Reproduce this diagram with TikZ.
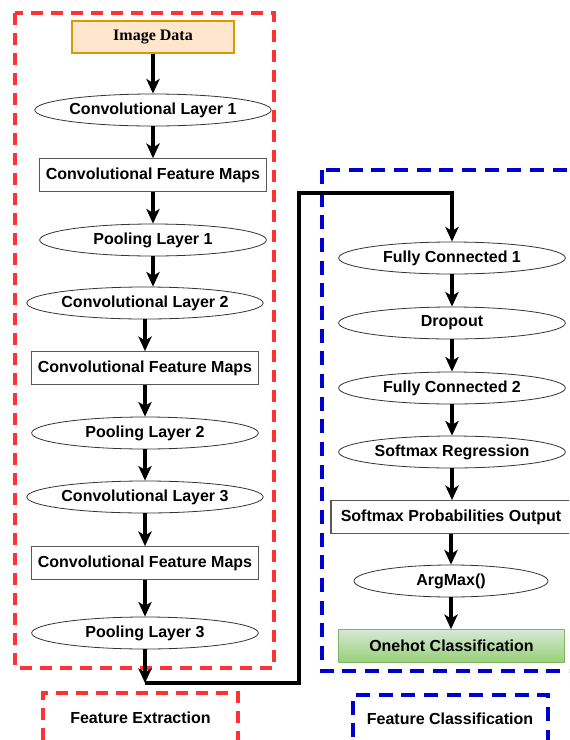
\documentclass[tikz,border=0pt]{standalone}
\usepackage{fontspec}
\setmainfont{Liberation Sans}
\newfontfamily\serifbold{Liberation Serif}
\usetikzlibrary{arrows.meta,shapes.geometric}

\definecolor{boxred}{HTML}{FF3333}
\definecolor{boxblue}{HTML}{0000CC}
\definecolor{imgfill}{HTML}{FFE6CC}
\definecolor{imgdraw}{HTML}{D79B00}
\definecolor{hotdraw}{HTML}{82B366}
\definecolor{hottop}{HTML}{D5E8D4}
\definecolor{hotbottom}{HTML}{97D077}

\begin{document}
\begin{tikzpicture}[x=0.75pt,y=-0.75pt,
        font=\fontsize{12}{14}\selectfont\bfseries,
        layer/.style={ellipse,draw=black!80,line width=0.6pt,inner sep=0pt,minimum width=170pt,minimum height=24pt},
        maps/.style={rectangle,draw=black!65,line width=0.8pt,inner sep=0pt,minimum width=170pt,minimum height=24.5pt},
        flow/.style={-{Stealth[length=11pt,width=10pt,inset=3pt]},line width=2.6pt},
        redbox/.style={draw=boxred,line width=2.3pt,dash pattern=on 9pt off 6pt},
        bluebox/.style={draw=boxblue,line width=2.3pt,dash pattern=on 10.5pt off 6.5pt}]
        \useasboundingbox (0,0) rectangle (569,740);
        \clip (0,0) rectangle (569,740);
        % group frames
        \draw[redbox] (15,13) rectangle (274,668);
        \draw[bluebox] (322,170) rectangle (578,671);
        \draw[redbox] (43,760) -- (43,693) -- (238,693) -- (238,760);
        \draw[bluebox] (353,760) -- (353,695) -- (548,695) -- (548,760);
        \node (extract) at (140.5,718) {Feature Extraction};
        \node (classify) at (450,719) {Feature Classification};
        % feature extraction
        \node [rectangle,draw=imgdraw,fill=imgfill,line width=0.8pt,minimum width=121.5pt,minimum height=24pt,font=\fontsize{12}{14}\selectfont\serifbold\bfseries] (image) at (153,37) {Image Data};
        \node [layer] (conv1) at (153,110) {Convolutional Layer 1};
        \node [maps] (maps1) at (153,175) {Convolutional Feature Maps};
        \node [layer] (pool1) at (153,240) {Pooling Layer 1};
        \node [layer] (conv2) at (145,303) {Convolutional Layer 2};
        \node [maps] (maps2) at (145,368) {Convolutional Feature Maps};
        \node [layer] (pool2) at (145,433) {Pooling Layer 2};
        \node [layer] (conv3) at (145,497) {Convolutional Layer 3};
        \node [maps] (maps3) at (145,563) {Convolutional Feature Maps};
        \node [layer] (pool3) at (145,633) {Pooling Layer 3};
        % feature classification
        \node [layer] (fc1) at (452,258) {Fully Connected 1};
        \node [layer] (drop) at (452,323) {Dropout};
        \node [layer] (fc2) at (452,388) {Fully Connected 2};
        \node [layer] (softreg) at (452,452) {Softmax Regression};
        \node [maps,minimum width=180pt] (softout) at (451,517) {Softmax Probabilities Output};
        \node [layer,minimum width=145.5pt] (argmax) at (451,581) {ArgMax()};
        \node [rectangle,draw=hotdraw,top color=hottop,bottom color=hotbottom,line width=0.8pt,minimum width=170pt,minimum height=24.5pt] (onehot) at (451.5,646) {Onehot Classification};
        \coordinate (turn1) at (145,683);
        \coordinate (turn2) at (299,683);
        \coordinate (turn3) at (299,193);
        \coordinate (turn4) at (452,193);
        % connectors
        \draw[flow] (image.south) -- (image.south |- conv1.north);
        \draw[flow] (conv1.south) -- (conv1.south |- maps1.north);
        \draw[flow] (maps1.south) -- (maps1.south |- pool1.north);
        \draw[flow] (pool1.south) -- (pool1.south |- conv2.north);
        \draw[flow] (conv2.south) -- (conv2.south |- maps2.north);
        \draw[flow] (maps2.south) -- (maps2.south |- pool2.north);
        \draw[flow] (pool2.south) -- (pool2.south |- conv3.north);
        \draw[flow] (conv3.south) -- (conv3.south |- maps3.north);
        \draw[flow] (maps3.south) -- (maps3.south |- pool3.north);
        \draw[flow] (pool3.south) -- (turn1);
        \draw[flow,line join=miter] (turn1) -- (turn2) -- (turn3) -- (turn4) -- (fc1.north);
        \draw[flow] (fc1.south) -- (fc1.south |- drop.north);
        \draw[flow] (drop.south) -- (drop.south |- fc2.north);
        \draw[flow] (fc2.south) -- (fc2.south |- softreg.north);
        \draw[flow] (softreg.south) -- (softreg.south |- softout.north);
        \draw[flow] (softout.south) -- (softout.south |- argmax.north);
        \draw[flow] (argmax.south) -- (argmax.south |- onehot.north);
        \end{tikzpicture}
\end{document}
